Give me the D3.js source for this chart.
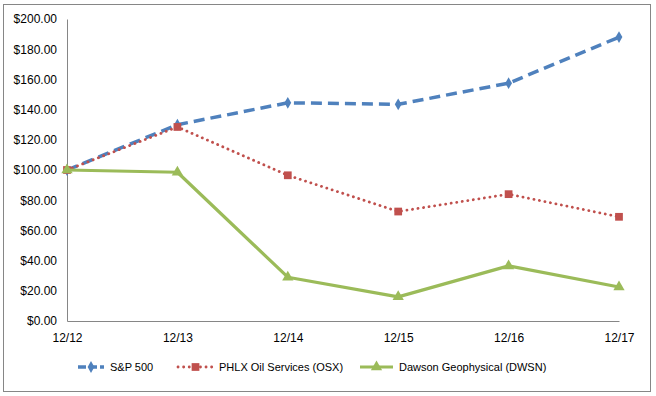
<!DOCTYPE html>
<html>
<head>
<meta charset="utf-8">
<script src="https://cdn.jsdelivr.net/npm/d3@7"></script>
<style>
  body { margin: 0; background: #fff; }
  text { font-family: "Liberation Sans", Arial, sans-serif; fill: #000; }
</style>
</head>
<body>
<svg id="chart" width="656" height="396"></svg>
<script>
// data
var years = ['12/12', '12/13', '12/14', '12/15', '12/16', '12/17'];
var sp500 = [100, 130, 144.5, 143.5, 157.5, 188];
var osx = [100, 128.5, 96.5, 72.5, 84, 69];
var dwsn = [100, 98.5, 29, 16, 36.5, 22.5];
var yTicks = [0, 20, 40, 60, 80, 100, 120, 140, 160, 180, 200];

var seriesList = [
    {name: 'S&P 500', values: sp500, color: '#4F81BD', dash: '11,6', width: 3.5, marker: 'diamond'},
    {name: 'PHLX Oil Services (OSX)', values: osx, color: '#C0504D', dash: '0.1,5.5', width: 2.8, marker: 'square'},
    {name: 'Dawson Geophysical (DWSN)', values: dwsn, color: '#9BBB59', dash: null, width: 3.2, marker: 'triangle'}
];

var svg = d3.select('#chart');
var margin = {top: 19, left: 67, right: 37, bottom: 75};
var width = 656 - margin.left - margin.right;
var height = 396 - margin.top - margin.bottom;

// outer frame
svg.append('rect')
    .attr('x', 3.5).attr('y', 4.5)
    .attr('width', 647).attr('height', 387)
    .attr('fill', '#fff')
    .attr('stroke', '#868686')
    .attr('stroke-width', 1);

var g = svg.append('g')
    .attr('transform', 'translate(' + margin.left + ',' + margin.top + ')');

var x = d3.scalePoint().domain(years).range([0, width]);
var y = d3.scaleLinear().domain([0, 200]).range([height, 0]);

// y axis
var yAxis = d3.axisLeft(y)
    .tickValues(yTicks)
    .tickSize(0)
    .tickPadding(10)
    .tickFormat(function(d) { return '$' + d3.format('.2f')(d); });
g.append('g').attr('class', 'y-axis').call(yAxis)
    .call(function(s) {
        s.select('.domain').attr('stroke', '#868686');
        s.selectAll('text').style('font-size', '12px');
    });

// x axis
var xAxis = d3.axisBottom(x).tickSize(0).tickPadding(12);
g.append('g').attr('class', 'x-axis')
    .attr('transform', 'translate(0,' + height + ')')
    .call(xAxis)
    .call(function(s) {
        s.select('.domain').attr('stroke', '#868686');
        s.selectAll('text').style('font-size', '12px');
    });

var line = d3.line()
    .x(function(d, i) { return x(years[i]); })
    .y(function(d) { return y(d); });

function markerPath(type) {
    if (type === 'diamond') return d3.symbol().type(d3.symbolDiamond).size(40)();
    if (type === 'square') return d3.symbol().type(d3.symbolSquare).size(60)();
    return d3.symbol().type(d3.symbolTriangle).size(55)();
}

seriesList.forEach(function(s) {
    g.append('path')
        .attr('d', line(s.values))
        .attr('fill', 'none')
        .attr('stroke', s.color)
        .attr('stroke-width', s.width)
        .attr('stroke-linecap', s.marker === 'square' ? 'round' : 'butt')
        .attr('stroke-linejoin', 'round')
        .attr('stroke-dasharray', s.dash);

    g.selectAll('.m-' + s.marker)
        .data(s.values)
        .enter().append('path')
        .attr('class', 'm-' + s.marker)
        .attr('transform', function(d, i) { return 'translate(' + x(years[i]) + ',' + y(d) + ')'; })
        .attr('d', markerPath(s.marker))
        .attr('fill', s.color);
});

// legend
var legendX = [78, 178, 360];
var legendLen = [26, 35, 33];
var legend = svg.append('g').attr('transform', 'translate(0,367)');
seriesList.forEach(function(s, i) {
    var lg = legend.append('g').attr('transform', 'translate(' + legendX[i] + ',0)');
    lg.append('line')
        .attr('x1', 0).attr('x2', legendLen[i])
        .attr('stroke', s.color)
        .attr('stroke-width', s.width)
        .attr('stroke-linecap', s.marker === 'square' ? 'round' : 'butt')
        .attr('stroke-dasharray', s.marker === 'diamond' ? '8,3' : s.dash);
    lg.append('path')
        .attr('transform', 'translate(' + (legendLen[i] / 2) + ',0)')
        .attr('d', markerPath(s.marker))
        .attr('fill', s.color);
    lg.append('text')
        .attr('x', legendLen[i] + 6)
        .attr('dy', '0.35em')
        .style('font-size', '11px')
        .text(s.name);
});
</script>
</body>
</html>
